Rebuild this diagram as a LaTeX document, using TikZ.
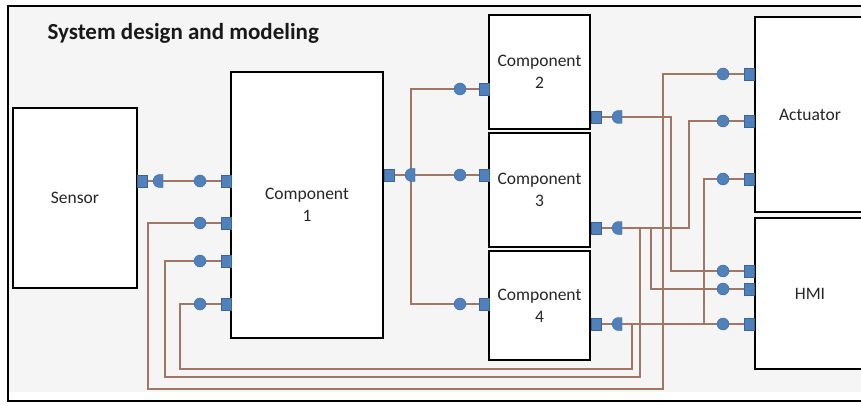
\documentclass[tikz,border=0pt]{standalone}
\usepackage{fontspec}
\setmainfont{Carlito}
\definecolor{portblue}{RGB}{79,129,189}
\definecolor{portedge}{RGB}{60,100,150}
\definecolor{wirebrown}{RGB}{160,118,100}
\definecolor{bggray}{RGB}{245,245,245}
\pgfdeclarelayer{bglayer}
\pgfdeclarelayer{wirelayer}
\pgfsetlayers{bglayer,wirelayer,main}
\begin{document}
\begin{tikzpicture}[x=1pt,y=-1pt,
  blockbox/.style={draw=black, line width=1.6pt, fill=white, inner sep=0pt, align=center,
    font=\fontsize{17.5}{22}\selectfont, text=black!85},
  sqport/.style={draw=portedge, line width=0.4pt, fill=portblue, minimum width=10pt, minimum height=12pt, inner sep=0pt},
  rport/.style={circle, draw=portedge, line width=0.4pt, fill=portblue, minimum size=12pt, inner sep=0pt},
  wire/.style={draw=wirebrown, line width=1.1pt},
  dport/.style={fill=portblue, draw=portedge, line width=0.4pt}
]
\useasboundingbox (0,0) rectangle (861,406);
\clip (0,0) rectangle (861,406);

% background and frame
\begin{pgfonlayer}{bglayer}
\fill[white] (0,0) rectangle (861,406);
\fill[bggray] (8,6) rectangle (861,392);
\draw[line width=1.3pt] (861,6) -- (8,6) -- (8,401) -- (861,401);
\end{pgfonlayer}

\node[anchor=west, font=\fontsize{23}{26}\bfseries\selectfont, text=black!90] (title) at (44,33) {System design and modeling};

% blocks
\node[blockbox, minimum width=124pt, minimum height=180pt] (sensor) at (75,198) {Sensor};
\node[blockbox, minimum width=152pt, minimum height=266pt] (comp1) at (307,205) {Component\\1};
\node[blockbox, minimum width=101pt, minimum height=114pt] (comp2) at (539.5,72) {Component\\2};
\node[blockbox, minimum width=101pt, minimum height=114pt] (comp3) at (539.5,190) {Component\\3};
\node[blockbox, minimum width=101pt, minimum height=109pt] (comp4) at (539.5,305.5) {Component\\4};
\node[blockbox, minimum width=110pt, minimum height=195pt] (act) at (810,114.5) {Actuator};
\node[blockbox, minimum width=110pt, minimum height=151pt] (hmi) at (810,293.5) {HMI};

% output ports (square + half disk)
\node[sqport] (sen-o) at (142,181) {};
\node[sqport] (c1-o) at (389,175) {};
\node[sqport] (c2-o) at (596,117) {};
\node[sqport] (c3-o) at (596,228) {};
\node[sqport] (c4-o) at (596,324) {};
\foreach \nm/\px/\py in {sen-d/163/181, c1-d/415/175, c2-d/622/117, c3-d/622/228, c4-d/622/324}{
  \coordinate (\nm) at (\px,\py);
  \draw[dport] (\nm) ++(0,-6.5) -- ++(-3.5,0) arc[start angle=-90, end angle=-270, radius=6.5] -- ++(3.5,0) -- cycle;
}

% input ports (circle + square)
\node[sqport] (c1-i1) at (226,181) {};
\node[rport]  (c1-c1) at (200,181) {};
\node[sqport] (c1-i2) at (226,223) {};
\node[rport]  (c1-c2) at (200,223) {};
\node[sqport] (c1-i3) at (226,261) {};
\node[rport]  (c1-c3) at (200,261) {};
\node[sqport] (c1-i4) at (226,304) {};
\node[rport]  (c1-c4) at (200,304) {};
\node[sqport] (c2-i) at (484,89) {};
\node[rport]  (c2-c) at (460,89) {};
\node[sqport] (c3-i) at (484,175) {};
\node[rport]  (c3-c) at (460,175) {};
\node[sqport] (c4-i) at (484,304) {};
\node[rport]  (c4-c) at (460,304) {};
\node[sqport] (a1-s) at (749,74) {};
\node[rport]  (a1-c) at (723,74) {};
\node[sqport] (a2-s) at (749,121) {};
\node[rport]  (a2-c) at (723,121) {};
\node[sqport] (a3-s) at (749,179) {};
\node[rport]  (a3-c) at (723,179) {};
\node[sqport] (h1-s) at (749,271) {};
\node[rport]  (h1-c) at (723,271) {};
\node[sqport] (h2-s) at (749,289) {};
\node[rport]  (h2-c) at (723,289) {};
\node[sqport] (h3-s) at (749,324) {};
\node[rport]  (h3-c) at (723,324) {};

% routing points
\coordinate (c1j) at (411,175);
\coordinate (c2r) at (671,117);
\coordinate (c2j) at (663,117);
\coordinate (lp1a) at (663,389);
\coordinate (lp1b) at (148,389);
\coordinate (c3r) at (689,228);
\coordinate (c3ja) at (651,228);
\coordinate (c3jb) at (640,228);
\coordinate (lp2a) at (640,377);
\coordinate (lp2b) at (165,377);
\coordinate (c4ja) at (704,324);
\coordinate (c4jb) at (632,324);
\coordinate (lp3a) at (632,369);
\coordinate (lp3b) at (180,369);

\begin{pgfonlayer}{wirelayer}
\draw[wire] (sen-o.center) -- (c1-i1.center);
\draw[wire] (c1-o.center) -- (c3-i.center);
\draw[wire] (c2-i.center) -| (c1j) |- (c4-i.center);
\draw[wire] (c2-o.center) -- (c2r) |- (h1-s.center);
\draw[wire] (a1-s.center) -| (c2j) -- (lp1a) -- (lp1b) |- (c1-i2.center);
\draw[wire] (c3-o.center) -- (c3r) |- (a2-s.center);
\draw[wire] (c3ja) |- (h2-s.center);
\draw[wire] (c3jb) -- (lp2a) -- (lp2b) |- (c1-i3.center);
\draw[wire] (c4-o.center) -- (h3-s.center);
\draw[wire] (c4ja) |- (a3-s.center);
\draw[wire] (c4jb) -- (lp3a) -- (lp3b) |- (c1-i4.center);
\end{pgfonlayer}
\end{tikzpicture}
\end{document}
